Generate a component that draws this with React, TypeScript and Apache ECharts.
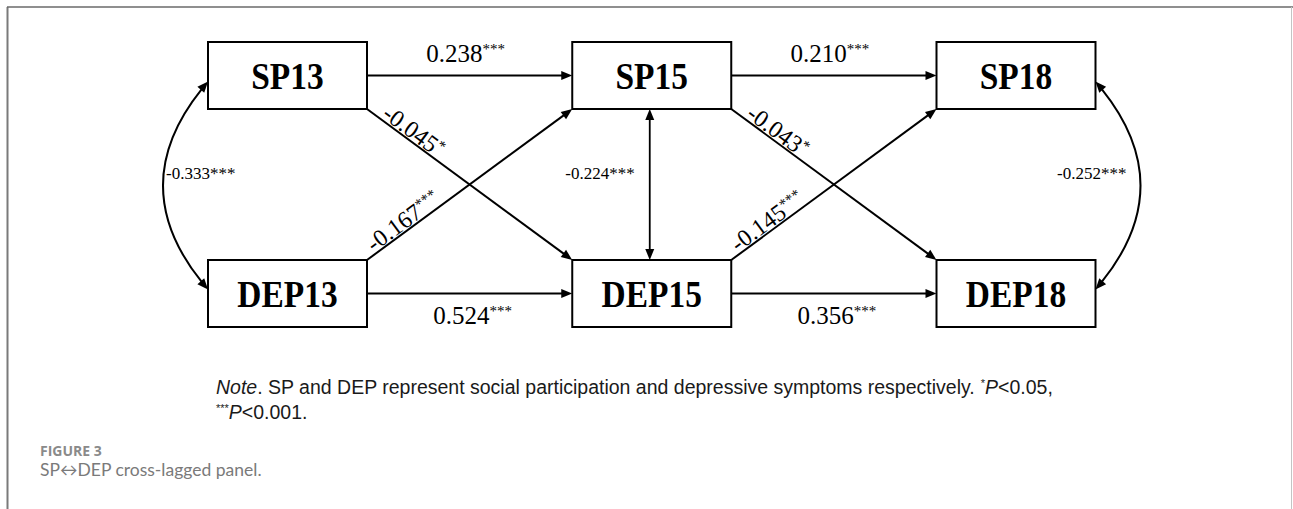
import React, { useEffect, useRef } from 'react';
import * as echarts from 'echarts';

// ---------- data ----------
const waves = ['13', '15', '18'];
const constructs = ['DEP', 'SP']; // bottom row, top row
const nodeNames = ['SP13', 'SP15', 'SP18', 'DEP13', 'DEP15', 'DEP18'];

const pathFrom = ['SP13', 'SP15', 'DEP13', 'DEP15', 'SP13', 'SP15', 'DEP13', 'DEP15'];
const pathTo = ['SP15', 'SP18', 'DEP15', 'DEP18', 'DEP15', 'DEP18', 'SP15', 'SP18'];
const pathCoef = [0.238, 0.21, 0.524, 0.356, -0.045, -0.043, -0.167, -0.145];
const pathSig = ['***', '***', '***', '***', '*', '*', '***', '***'];

const corrFrom = ['SP13', 'SP15', 'SP18'];
const corrTo = ['DEP13', 'DEP15', 'DEP18'];
const corrCoef = [-0.333, -0.224, -0.252];
const corrSig = ['***', '***', '***'];

const noteLine1 = '{i|Note}. SP and DEP represent social participation and depressive symptoms respectively. {sup|*}{i|P}<0.05,';
const noteLine2 = '{sup|***}{i|P}<0.001.';
const figureLabel = 'FIGURE 3';
const figureCaption = 'SP\u2194DEP cross-lagged panel.';

// ---------- styles ----------
const SERIF = '"Liberation Serif", "Times New Roman", serif';
const SANS = '"Liberation Sans", Arial, sans-serif';
const BOX_W = 159;
const BOX_H = 67;
const AH_LEN = 11;
const AH_W = 4.5;
const NOTE_SIZE = 19.5;

const nodeWave = (n: string) => waves.indexOf(n.replace(/^[A-Z]+/, ''));
const nodeRow = (n: string) => constructs.indexOf(n.replace(/\d+$/, ''));
const fmt = (v: number) => v.toFixed(3);

const nodeData = nodeNames.map((n) => [nodeWave(n), nodeRow(n)]);
const pathData = pathFrom.map((f, i) => [nodeWave(f), nodeRow(f), nodeWave(pathTo[i]), nodeRow(pathTo[i]), pathCoef[i]]);
const corrData = corrFrom.map((f, i) => [nodeWave(f), nodeRow(f), nodeWave(corrTo[i]), nodeRow(corrTo[i]), corrCoef[i]]);

function arrowHead(tip: number[], u: number[]) {
  const bx = tip[0] - u[0] * AH_LEN;
  const by = tip[1] - u[1] * AH_LEN;
  return {
    type: 'polygon',
    shape: {
      points: [
        [tip[0], tip[1]],
        [bx + u[1] * AH_W, by - u[0] * AH_W],
        [bx - u[1] * AH_W, by + u[0] * AH_W],
      ],
    },
    style: { fill: '#000', stroke: null },
  };
}

const bigRich = (size: number, supSize: number) => ({
  v: { fontFamily: SERIF, fontSize: size, fill: '#000' },
  s: { fontFamily: SERIF, fontSize: supSize, fill: '#000', verticalAlign: 'top' },
});

function renderBox(params: any, api: any) {
  const p = api.coord([api.value(0), api.value(1)]);
  const name = nodeNames[params.dataIndex];
  return {
    type: 'group',
    children: [
      {
        type: 'rect',
        shape: { x: p[0] - BOX_W / 2, y: p[1] - BOX_H / 2, width: BOX_W, height: BOX_H },
        style: { fill: '#fff', stroke: '#000', lineWidth: 2 },
      },
      {
        type: 'text',
        x: p[0],
        y: p[1] + 1,
        scaleX: 0.88,
        style: {
          text: name,
          fontFamily: SERIF,
          fontWeight: 'bold',
          fontSize: 38,
          fill: '#000',
          align: 'center',
          verticalAlign: 'middle',
        },
      },
    ],
  };
}

function renderPath(params: any, api: any) {
  const i = params.dataIndex;
  const a = api.coord([api.value(0), api.value(1)]);
  const b = api.coord([api.value(2), api.value(3)]);
  const sx = Math.sign(b[0] - a[0]);
  const sy = Math.sign(b[1] - a[1]);
  const s = [a[0] + (sx * BOX_W) / 2, a[1] + (sy * BOX_H) / 2];
  const t = [b[0] - (sx * BOX_W) / 2, b[1] - (sy * BOX_H) / 2];
  const dx = t[0] - s[0];
  const dy = t[1] - s[1];
  const len = Math.hypot(dx, dy);
  const u = [dx / len, dy / len];
  const e = [t[0] - u[0] * (AH_LEN - 2), t[1] - u[1] * (AH_LEN - 2)];
  const text = `{v|${fmt(api.value(4))}}{s|${pathSig[i]}}`;
  let label: any;
  if (sy === 0) {
    const upper = api.value(1) === constructs.length - 1;
    label = {
      type: 'text',
      x: (s[0] + t[0]) / 2 + (upper ? -4 : 3),
      y: s[1] + (upper ? -22 : 22),
      style: { text, rich: bigRich(25, 15), align: 'center', verticalAlign: 'middle' },
    };
  } else {
    const n = [u[1], -u[0]];
    const along = sy > 0 ? 16 : 10;
    const off = 10;
    label = {
      type: 'text',
      x: s[0] + u[0] * along + n[0] * off,
      y: s[1] + u[1] * along + n[1] * off,
      rotation: -Math.atan2(dy, dx),
      style: { text, rich: bigRich(24, 15), align: 'left', verticalAlign: 'middle' },
    };
  }
  return {
    type: 'group',
    children: [
      { type: 'line', shape: { x1: s[0], y1: s[1], x2: e[0], y2: e[1] }, style: { stroke: '#000', lineWidth: 2 } },
      arrowHead(t, u),
      label,
    ],
  };
}

function renderCorr(params: any, api: any) {
  const i = params.dataIndex;
  const w = api.value(0);
  const a = api.coord([api.value(0), api.value(1)]); // upper node (SP)
  const b = api.coord([api.value(2), api.value(3)]); // lower node (DEP)
  const side = w === 0 ? -1 : w === waves.length - 1 ? 1 : 0;
  const text = `${fmt(api.value(4))}${corrSig[i]}`;
  const midY = (a[1] + b[1]) / 2;
  const labelStyle = { text, fontFamily: SERIF, fontSize: 17, fill: '#000', verticalAlign: 'middle' };
  if (side === 0) {
    const x = a[0] - 2;
    const p0 = [x, a[1] + BOX_H / 2];
    const p1 = [x, b[1] - BOX_H / 2];
    return {
      type: 'group',
      children: [
        { type: 'line', shape: { x1: x, y1: p0[1] + AH_LEN - 2, x2: x, y2: p1[1] - AH_LEN + 2 }, style: { stroke: '#000', lineWidth: 1.8 } },
        arrowHead(p0, [0, -1]),
        arrowHead(p1, [0, 1]),
        { type: 'text', x: x - 15, y: midY - 11, style: { ...labelStyle, align: 'right' } },
      ],
    };
  }
  const ex = a[0] + (side * BOX_W) / 2;
  const p0 = [ex, a[1] + 6];
  const p2 = [ex, b[1] - 4];
  const c = [ex + side * 90, (p0[1] + p2[1]) / 2];
  const approxLen = (Math.hypot(c[0] - p0[0], c[1] - p0[1]) + Math.hypot(p2[0] - c[0], p2[1] - c[1]) + Math.hypot(p2[0] - p0[0], p2[1] - p0[1])) / 2;
  const t0 = (AH_LEN - 2) / approxLen;
  const t1 = 1 - t0;
  const bez = (t: number) => [
    (1 - t) * (1 - t) * p0[0] + 2 * (1 - t) * t * c[0] + t * t * p2[0],
    (1 - t) * (1 - t) * p0[1] + 2 * (1 - t) * t * c[1] + t * t * p2[1],
  ];
  const q0 = bez(t0);
  const q2 = bez(t1);
  const k1 = (1 - t0) * t1 + t0 * (1 - t1);
  const qc = [
    (1 - t0) * (1 - t1) * p0[0] + k1 * c[0] + t0 * t1 * p2[0],
    (1 - t0) * (1 - t1) * p0[1] + k1 * c[1] + t0 * t1 * p2[1],
  ];
  const norm = (v: number[]) => {
    const l = Math.hypot(v[0], v[1]);
    return [v[0] / l, v[1] / l];
  };
  const u0 = norm([p0[0] - c[0], p0[1] - c[1]]);
  const u2 = norm([p2[0] - c[0], p2[1] - c[1]]);
  const apexX = ex + side * 45;
  return {
    type: 'group',
    children: [
      {
        type: 'bezierCurve',
        shape: { x1: q0[0], y1: q0[1], x2: q2[0], y2: q2[1], cpx1: qc[0], cpy1: qc[1] },
        style: { stroke: '#000', lineWidth: 2, fill: null },
      },
      arrowHead(p0, u0),
      arrowHead(p2, u2),
      {
        type: 'text',
        x: side < 0 ? apexX + 3 : apexX - 14,
        y: midY - 11,
        style: { ...labelStyle, align: side < 0 ? 'left' : 'right' },
      },
    ],
  };
}

const noteRich = {
  i: { fontFamily: SANS, fontSize: NOTE_SIZE, fontStyle: 'italic', fill: '#1a1a1a' },
  sup: { fontFamily: SANS, fontSize: 11, fill: '#1a1a1a', verticalAlign: 'top' },
};

const option: any = {
  animation: false,
  backgroundColor: '#fff',
  grid: { left: 105.375, width: 1092.75, top: 75.5, height: 218 },
  xAxis: { type: 'value', min: -0.5, max: 2.5, show: false },
  yAxis: { type: 'value', min: 0, max: 1, show: false },
  graphic: [
    { type: 'line', shape: { x1: 7.5, y1: 7, x2: 7.5, y2: 509 }, style: { stroke: '#7a7a7a', lineWidth: 2 } },
    { type: 'line', shape: { x1: 7, y1: 7, x2: 1293, y2: 7 }, style: { stroke: '#6a6a6a', lineWidth: 1.5 } },
    { type: 'line', shape: { x1: 1291.5, y1: 7, x2: 1291.5, y2: 509 }, style: { stroke: '#c4c4c4', lineWidth: 1 } },
    {
      type: 'text',
      x: 216,
      y: 387,
      style: {
        text: noteLine1,
        fontFamily: SANS,
        fontSize: NOTE_SIZE,
        fill: '#1a1a1a',
        verticalAlign: 'middle',
        rich: noteRich,
      },
    },
    {
      type: 'text',
      x: 216,
      y: 412,
      style: {
        text: noteLine2,
        fontFamily: SANS,
        fontSize: NOTE_SIZE,
        fill: '#1a1a1a',
        verticalAlign: 'middle',
        rich: noteRich,
      },
    },
    {
      type: 'text',
      x: 40,
      y: 450,
      style: {
        text: figureLabel,
        fontFamily: '"Open Sans", sans-serif',
        fontWeight: 'bold',
        fontSize: 14,
        fill: '#8a8a8a',
        verticalAlign: 'middle',
      },
    },
    {
      type: 'text',
      x: 40,
      y: 469,
      style: {
        text: figureCaption,
        fontFamily: 'Lato, "Open Sans", sans-serif',
        fontSize: 17.5,
        fill: '#7a7a7a',
        verticalAlign: 'middle',
      },
    },
  ],
  series: [
    { type: 'custom', name: 'boxes', coordinateSystem: 'cartesian2d', clip: false, silent: true, z: 3, renderItem: renderBox, data: nodeData },
    { type: 'custom', name: 'paths', coordinateSystem: 'cartesian2d', clip: false, silent: true, z: 4, renderItem: renderPath, data: pathData },
    { type: 'custom', name: 'correlations', coordinateSystem: 'cartesian2d', clip: false, silent: true, z: 4, renderItem: renderCorr, data: corrData },
  ],
};

export default function App() {
  const ref = useRef<HTMLDivElement>(null);
  useEffect(() => {
    const chart = echarts.init(ref.current as HTMLDivElement, null, { renderer: 'svg' });
    chart.setOption(option);
    return () => chart.dispose();
  }, []);
  return (
    <div
      ref={ref}
      style={{ position: 'fixed', left: 0, top: 0, width: 1293, height: 509, background: '#fff' }}
    />
  );
}
